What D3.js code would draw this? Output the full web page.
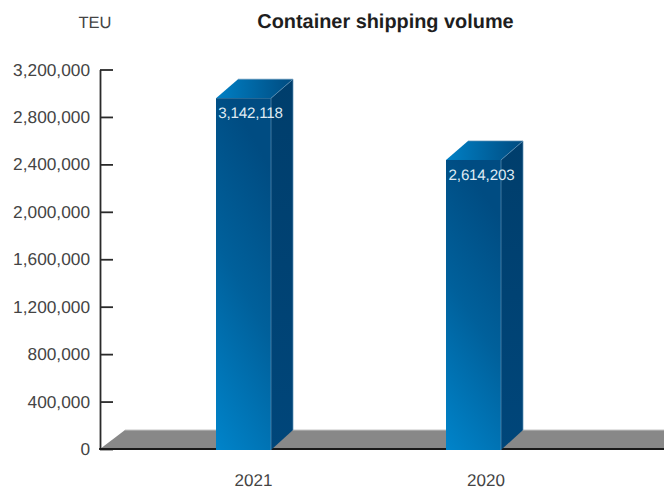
<!DOCTYPE html>
<html><head><meta charset="utf-8">
<script src="https://cdn.jsdelivr.net/npm/d3@7/dist/d3.min.js"></script>
<style>html,body{margin:0;padding:0;background:#fff}svg{display:block}text{font-family:"Liberation Sans",Arial,sans-serif;text-rendering:geometricPrecision}</style>
</head><body><div id="chart"></div>
<script>
const categories = ["2021", "2020"];
const labelValues = [3142118, 2614203];
const drawnValues = [2958000, 2437000]; // heights as drawn against the axis
const tickValues = [0, 400000, 800000, 1200000, 1600000, 2000000, 2400000, 2800000, 3200000];
const titleText = "Container shipping volume";
const unitText = "TEU";

const W = 664, H = 490;
const svg = d3.select("#chart").append("svg").attr("width", W).attr("height", H);
const y = d3.scaleLinear().domain([0, 3200000]).range([449, 69.5]);
const x = d3.scalePoint().domain(categories).range([243.5, 473.5]);
const barW = 55, dx = 22, dy = 19, floorDx = 25;

const defs = svg.append("defs");
function grad(id, x1, y1, x2, y2, stops) {
  const g = defs.append("linearGradient").attr("id", id)
    .attr("x1", x1).attr("y1", y1).attr("x2", x2).attr("y2", y2);
  stops.forEach(s => g.append("stop").attr("offset", s[0]).attr("stop-color", s[1]));
}
grad("front", 0, 1, 0.28, 0, [[0, "#0084ca"], [0.55, "#00609b"], [1, "#004c82"]]);
grad("top", 0, 0.5, 1, 0.5, [[0, "#0080c5"], [1, "#004b80"]]);
grad("side", 0, 1, 0, 0, [[0, "#00467a"], [1, "#003e6c"]]);

// floor
const y0 = y(0), ax = 100;
svg.append("path").attr("fill", "#888888")
  .attr("d", d3.line()([[ax, y0], [ax + floorDx, y0 - dy], [W, y0 - dy], [W, y0]]) + "Z");
svg.append("line").attr("x1", ax + floorDx).attr("x2", W).attr("y1", y0 - dy).attr("y2", y0 - dy)
  .attr("stroke", "#c4c4c4").attr("stroke-width", 1);

// axes
const axis = d3.axisLeft(y).tickValues(tickValues).tickFormat(d3.format(",")).tickSize(0).tickPadding(10);
const ga = svg.append("g").attr("transform", `translate(${ax},0)`).call(axis);
ga.select(".domain").attr("stroke", "#2a2a2a").attr("stroke-width", 1.8);
ga.selectAll("text").attr("font-size", 17.3).attr("fill", "#444");
ga.selectAll(".tick line").attr("x1", 0).attr("x2", 13).attr("stroke", "#2a2a2a").attr("stroke-width", 1.8);
svg.append("line").attr("x1", ax - 0.9).attr("x2", W).attr("y1", y0).attr("y2", y0)
  .attr("stroke", "#1a1a1a").attr("stroke-width", 1.8);

// bars
categories.forEach((c, i) => {
  const l = x(c) - barW / 2, r = l + barW, t = y(drawnValues[i]), b = y0 + 1;
  const g = svg.append("g");
  const poly = pts => d3.line()(pts) + "Z";
  g.append("path").attr("fill", "url(#side)")
    .attr("d", poly([[r, t], [r + dx, t - dy], [r + dx, y0 - dy], [r, b]]));
  g.append("path").attr("fill", "url(#top)")
    .attr("d", poly([[l, t], [l + dx, t - dy], [r + dx, t - dy], [r, t]]));
  g.append("rect").attr("x", l).attr("y", t).attr("width", barW).attr("height", b - t).attr("fill", "url(#front)");
  g.append("path").attr("fill", "none").attr("stroke", "#5b8fb5").attr("stroke-width", 0.7)
    .attr("d", d3.line()([[r, b], [r, t], [r + dx, t - dy], [r + dx, y0 - dy]]));
  g.append("line").attr("x1", l + dx).attr("x2", r + dx).attr("y1", t - dy).attr("y2", t - dy)
    .attr("stroke", "#5b8fb5").attr("stroke-width", 0.7);
  g.append("text").attr("x", x(c) + 7 + i).attr("y", t + 20).attr("text-anchor", "middle")
    .attr("font-size", 15.2).attr("fill", "#dfeaf3").attr("letter-spacing", -0.2)
    .text(d3.format(",")(labelValues[i]));
  svg.append("text").attr("x", x(c) + 10 + i * 2.5).attr("y", 486).attr("text-anchor", "middle")
    .attr("font-size", 17).attr("fill", "#444").text(c);
});

svg.append("text").attr("x", 385.5).attr("y", 28).attr("text-anchor", "middle")
  .attr("font-size", 19.9).attr("font-weight", "bold").attr("fill", "#1e1e1e").text(titleText);
svg.append("text").attr("x", 95).attr("y", 28).attr("text-anchor", "middle")
  .attr("font-size", 16.5).attr("fill", "#444").text(unitText);
</script></body></html>
